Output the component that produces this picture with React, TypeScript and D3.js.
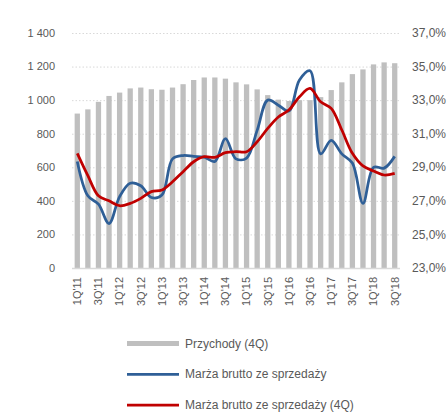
import React, { useRef, useEffect } from 'react';
import * as d3 from 'd3';

// quarters 1Q'11 .. 3Q'18
const quarters: string[] = [];
for (let yr = 11; yr <= 18; yr++) {
  for (let q = 1; q <= 4; q++) {
    if (yr === 18 && q === 4) break;
    quarters.push(`${q}Q'${yr}`);
  }
}

// Przychody (4Q), left axis
const revenue = [920, 945, 990, 1025, 1045, 1070, 1075, 1065, 1062, 1075, 1095, 1120, 1135, 1135, 1128, 1106,
  1094, 1064, 1030, 1003, 995, 1000, 1000, 1018, 1060, 1106, 1155, 1183, 1213, 1225, 1220];

// Marża brutto ze sprzedaży, right axis (%)
const margin = [29.35, 27.3, 26.8, 25.65, 27.25, 28.05, 27.9, 27.2, 27.35, 29.5, 29.7, 29.65, 29.6, 29.35, 30.7, 29.5,
  29.55, 31.2, 33.0, 32.7, 32.35, 34.2, 34.75, 29.8, 30.6, 29.8, 29.25, 26.85, 29.0, 28.95, 29.65];

// Marża brutto ze sprzedaży (4Q), right axis (%)
const margin4q = [29.83, 28.5, 27.3, 27.0, 26.71, 26.85, 27.15, 27.55, 27.65, 28.14, 28.74, 29.33, 29.63, 29.59, 29.87, 29.93,
  29.93, 30.52, 31.32, 32.0, 32.41, 33.2, 33.7, 32.9, 32.51, 31.22, 29.83, 29.08, 28.78, 28.54, 28.64];

const leftTicks = [0, 200, 400, 600, 800, 1000, 1200, 1400];
const rightTicks = [23, 25, 27, 29, 31, 33, 35, 37];

const legendItems = [
  { label: 'Przychody (4Q)', type: 'bar', color: '#BFBFBF' },
  { label: 'Marża brutto ze sprzedaży', type: 'line', color: '#2F5F97' },
  { label: 'Marża brutto ze sprzedaży (4Q)', type: 'line', color: '#C00000' },
];

const W = 447;
const H = 412;

const Chart = () => {
  const ref = useRef<SVGSVGElement>(null);

  useEffect(() => {
    const svg = d3.select(ref.current)
      .attr('width', W)
      .attr('height', H);

    svg.selectAll('*').remove();

    const font = "'Liberation Sans', Arial, sans-serif";
    const textColor = '#595959';

    const x = d3.scaleBand<string>()
      .domain(quarters)
      .range([72, 400])
      .paddingInner(0.5)
      .paddingOuter(0.25);

    const yLeft = d3.scaleLinear().domain([0, 1400]).range([268, 33]);
    const yRight = d3.scaleLinear().domain([23, 37]).range([268, 33]);

    // dotted gridlines
    svg.append('g')
      .selectAll('line')
      .data(leftTicks.filter(d => d > 0))
      .enter()
      .append('line')
      .attr('x1', 72)
      .attr('x2', 400)
      .attr('y1', d => yLeft(d) + 0.5)
      .attr('y2', d => yLeft(d) + 0.5)
      .attr('stroke', '#D9D9D9')
      .attr('stroke-width', 1)
      .attr('stroke-dasharray', '1.5,2');

    // bars
    svg.append('g')
      .selectAll('rect')
      .data(revenue)
      .enter()
      .append('rect')
      .attr('x', (d, i) => x(quarters[i])!)
      .attr('y', d => yLeft(d))
      .attr('width', x.bandwidth())
      .attr('height', d => yLeft(0) - yLeft(d))
      .attr('fill', '#BFBFBF');

    // baseline
    svg.append('line')
      .attr('x1', 72)
      .attr('x2', 400)
      .attr('y1', yLeft(0) + 0.5)
      .attr('y2', yLeft(0) + 0.5)
      .attr('stroke', '#D9D9D9')
      .attr('stroke-width', 1.5);

    const line = d3.line<number>()
      .x((d, i) => x(quarters[i])! + x.bandwidth() / 2)
      .y(d => yRight(d))
      .curve(d3.curveCatmullRom.alpha(0.5));

    svg.append('path')
      .datum(margin)
      .attr('d', line)
      .attr('fill', 'none')
      .attr('stroke', '#2F5F97')
      .attr('stroke-width', 2.75);

    svg.append('path')
      .datum(margin4q)
      .attr('d', line)
      .attr('fill', 'none')
      .attr('stroke', '#C00000')
      .attr('stroke-width', 2.75);

    // left axis labels
    svg.append('g')
      .selectAll('text')
      .data(leftTicks)
      .enter()
      .append('text')
      .attr('x', 55)
      .attr('y', d => yLeft(d))
      .attr('dy', '0.35em')
      .attr('text-anchor', 'end')
      .attr('font-family', font)
      .attr('font-size', 11)
      .attr('fill', textColor)
      .text(d => d3.format(',')(d).replace(',', ' '));

    // right axis labels
    svg.append('g')
      .selectAll('text')
      .data(rightTicks)
      .enter()
      .append('text')
      .attr('x', 412)
      .attr('y', d => yRight(d))
      .attr('dy', '0.35em')
      .attr('font-family', font)
      .attr('font-size', 12)
      .attr('fill', textColor)
      .text(d => d.toFixed(1).replace('.', ',') + '%');

    // category labels, every other quarter
    svg.append('g')
      .selectAll('text')
      .data(quarters.filter((d, i) => i % 2 === 0))
      .enter()
      .append('text')
      .attr('transform', d => `translate(${x(d)! + x.bandwidth() / 2},277) rotate(-90)`)
      .attr('dy', '0.35em')
      .attr('text-anchor', 'end')
      .attr('font-family', font)
      .attr('font-size', 11)
      .attr('fill', textColor)
      .text(d => d);

    // legend
    const legend = svg.append('g')
      .selectAll('g')
      .data(legendItems)
      .enter()
      .append('g')
      .attr('transform', (d, i) => `translate(127,${343.5 + i * 30.75})`);

    legend.filter(d => d.type === 'bar')
      .append('rect')
      .attr('x', 0)
      .attr('y', -2.5)
      .attr('width', 52)
      .attr('height', 5)
      .attr('fill', d => d.color);

    legend.filter(d => d.type === 'line')
      .append('line')
      .attr('x1', 0)
      .attr('x2', 52)
      .attr('y1', 0)
      .attr('y2', 0)
      .attr('stroke', d => d.color)
      .attr('stroke-width', 2.75);

    legend.append('text')
      .attr('x', 58)
      .attr('y', 0)
      .attr('dy', '0.35em')
      .attr('font-family', font)
      .attr('font-size', 12)
      .attr('fill', textColor)
      .text(d => d.label);
  }, []);

  return <svg ref={ref} style={{ position: 'absolute', left: 0, top: 0, background: '#fff' }}></svg>;
};

export default function App() {
  return <Chart />;
}
